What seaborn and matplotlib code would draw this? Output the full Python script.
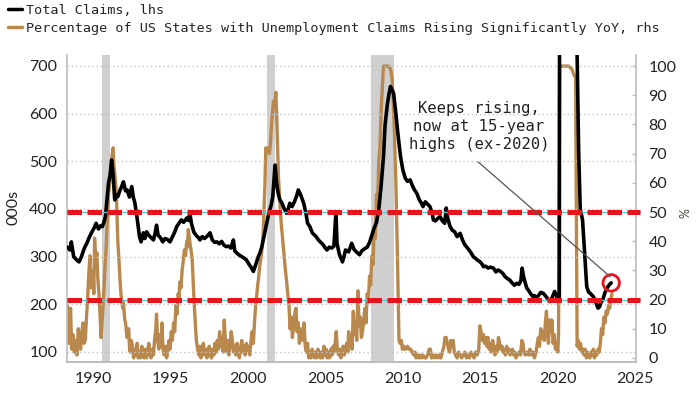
import numpy as np
import pandas as pd
import matplotlib
matplotlib.use("Agg")
import matplotlib.pyplot as plt
import matplotlib.transforms as mtransforms
from matplotlib.lines import Line2D
import seaborn as sns

# ---------------- data ----------------
# Total claims (000s), left axis: (decimal year, value)
claims_points = [
    (1988.35, 320), (1988.5, 314), (1988.6, 331), (1988.75, 300), (1988.95, 293),
    (1989.1, 289), (1989.25, 300), (1989.4, 314), (1989.5, 322), (1989.6, 328),
    (1989.75, 340), (1989.9, 350), (1990.0, 356), (1990.1, 362), (1990.2, 370),
    (1990.35, 358), (1990.5, 365), (1990.6, 363), (1990.7, 372), (1990.8, 384),
    (1990.9, 420), (1991.0, 455), (1991.1, 470), (1991.2, 503), (1991.3, 470),
    (1991.4, 419), (1991.5, 430), (1991.6, 426), (1991.75, 440), (1991.85, 447),
    (1991.96, 457), (1992.1, 438), (1992.2, 440), (1992.35, 425), (1992.5, 447),
    (1992.6, 425), (1992.7, 413), (1992.85, 380), (1993.0, 342), (1993.1, 331),
    (1993.25, 350), (1993.35, 338), (1993.46, 352), (1993.6, 345), (1993.75, 340),
    (1993.9, 335), (1994.0, 348), (1994.1, 366), (1994.2, 345), (1994.35, 340),
    (1994.5, 331), (1994.65, 338), (1994.8, 336), (1994.97, 331), (1995.1, 340),
    (1995.25, 350), (1995.4, 363), (1995.55, 370), (1995.7, 377), (1995.85, 372),
    (1996.05, 381), (1996.15, 376), (1996.25, 391), (1996.35, 370), (1996.5, 352),
    (1996.65, 345), (1996.8, 340), (1996.9, 335), (1997.05, 342), (1997.2, 338),
    (1997.4, 344), (1997.55, 350), (1997.7, 335), (1997.85, 330), (1998.0, 331),
    (1998.15, 327), (1998.3, 332), (1998.45, 324), (1998.6, 321), (1998.75, 322),
    (1998.9, 318), (1999.06, 335), (1999.15, 312), (1999.3, 307), (1999.45, 303),
    (1999.6, 300), (1999.75, 297), (1999.9, 293), (2000.05, 285), (2000.2, 278),
    (2000.35, 269), (2000.5, 283), (2000.67, 300), (2000.8, 310), (2000.9, 321),
    (2001.05, 345), (2001.2, 370), (2001.35, 392), (2001.5, 408), (2001.6, 425),
    (2001.7, 470), (2001.75, 492), (2001.85, 455), (2001.95, 433), (2002.05, 420),
    (2002.2, 412), (2002.35, 400), (2002.5, 391), (2002.6, 400), (2002.7, 412),
    (2002.85, 405), (2003.0, 415), (2003.15, 428), (2003.25, 440), (2003.4, 430),
    (2003.6, 412), (2003.75, 390), (2003.85, 370), (2004.0, 363), (2004.15, 350),
    (2004.3, 345), (2004.4, 342), (2004.55, 335), (2004.7, 330), (2004.85, 325),
    (2005.0, 318), (2005.1, 314), (2005.25, 320), (2005.4, 318), (2005.55, 322),
    (2005.68, 394), (2005.75, 328), (2005.9, 305), (2006.1, 289), (2006.2, 300),
    (2006.3, 314), (2006.5, 310), (2006.7, 328), (2006.85, 315), (2007.0, 310),
    (2007.2, 304), (2007.35, 312), (2007.5, 316), (2007.7, 320), (2007.85, 330),
    (2008.0, 345), (2008.15, 360), (2008.3, 372), (2008.45, 400), (2008.6, 450),
    (2008.75, 510), (2008.85, 575), (2009.0, 620), (2009.1, 640), (2009.2, 657),
    (2009.3, 650), (2009.4, 643), (2009.55, 600), (2009.7, 552), (2009.85, 510),
    (2010.0, 482), (2010.15, 465), (2010.3, 458), (2010.47, 461), (2010.6, 450),
    (2010.75, 440), (2010.9, 433), (2011.05, 420), (2011.2, 412), (2011.3, 405),
    (2011.45, 415), (2011.6, 410), (2011.75, 405), (2011.9, 390), (2011.97, 377),
    (2012.1, 375), (2012.25, 380), (2012.4, 384), (2012.55, 375), (2012.7, 370),
    (2012.8, 402), (2012.9, 380), (2013.05, 363), (2013.2, 355), (2013.35, 352),
    (2013.5, 342), (2013.7, 349), (2013.85, 335), (2014.0, 325), (2014.1, 321),
    (2014.25, 315), (2014.4, 308), (2014.55, 300), (2014.7, 296), (2014.8, 293),
    (2014.95, 290), (2015.1, 285), (2015.2, 279), (2015.35, 280), (2015.5, 276),
    (2015.65, 278), (2015.85, 276), (2016.0, 268), (2016.15, 272), (2016.3, 269),
    (2016.45, 265), (2016.6, 258), (2016.75, 254), (2016.9, 251), (2017.05, 245),
    (2017.2, 240), (2017.35, 244), (2017.5, 242), (2017.62, 250), (2017.7, 276),
    (2017.78, 260), (2017.9, 245), (2018.0, 234), (2018.1, 230), (2018.25, 222),
    (2018.4, 216), (2018.5, 218), (2018.6, 213), (2018.75, 218), (2018.9, 225),
    (2019.07, 223), (2019.2, 218), (2019.35, 212), (2019.5, 206), (2019.65, 215),
    (2019.8, 227), (2019.9, 220), (2020.0, 209), (2020.1, 215), (2020.16, 2500),
    (2020.3, 3000), (2020.6, 1400), (2020.9, 850), (2021.15, 800), (2021.25, 720),
    (2021.35, 520), (2021.45, 400), (2021.6, 377), (2021.75, 300), (2021.87, 237),
    (2022.0, 225), (2022.1, 223), (2022.3, 216), (2022.45, 205), (2022.6, 192),
    (2022.7, 195), (2022.8, 205), (2022.9, 209), (2023.05, 225), (2023.2, 235),
    (2023.35, 242), (2023.45, 245),
]

# % of US states with claims rising significantly YoY, right axis
pct_points = [
    (1988.35, 18), (1988.42, 5), (1988.5, 12), (1988.55, 17), (1988.62, 3), (1988.7, 8),
    (1988.8, 2), (1988.9, 6), (1988.97, 1), (1989.05, 10), (1989.12, 4), (1989.2, 3),
    (1989.28, 9), (1989.35, 12), (1989.42, 5), (1989.5, 6), (1989.58, 14), (1989.65, 20),
    (1989.72, 28), (1989.8, 35), (1989.85, 24), (1989.92, 27), (1990.0, 30), (1990.05, 22),
    (1990.1, 41), (1990.17, 33), (1990.25, 36), (1990.3, 28), (1990.38, 22), (1990.45, 15),
    (1990.52, 7), (1990.58, 12), (1990.65, 18), (1990.72, 25), (1990.77, 31), (1990.85, 38),
    (1990.9, 45), (1990.95, 50), (1991.0, 56), (1991.08, 60), (1991.15, 65), (1991.22, 69),
    (1991.3, 72), (1991.35, 66), (1991.42, 62), (1991.5, 57), (1991.55, 48), (1991.6, 40),
    (1991.68, 33), (1991.75, 26), (1991.8, 22), (1991.85, 20), (1991.92, 17), (1991.96, 19),
    (1992.05, 13), (1992.1, 12), (1992.2, 7), (1992.3, 10), (1992.35, 4),
    (1992.4, 2), (1992.47, 6), (1992.55, 4), (1992.62, 0), (1992.7, 3), (1992.77, 1),
    (1992.85, 5), (1992.92, 0), (1993.0, 2), (1993.07, 0), (1993.15, 4), (1993.22, 1),
    (1993.3, 0), (1993.37, 3), (1993.45, 0), (1993.52, 2), (1993.6, 5), (1993.67, 1),
    (1993.75, 0), (1993.82, 3), (1993.9, 1), (1993.97, 6), (1994.05, 10), (1994.1, 15),
    (1994.17, 6), (1994.25, 3), (1994.32, 8), (1994.4, 4), (1994.45, 12), (1994.52, 3),
    (1994.6, 1), (1994.67, 4), (1994.75, 0), (1994.82, 2), (1994.9, 6), (1994.97, 3),
    (1995.05, 9), (1995.12, 6), (1995.2, 12), (1995.27, 9), (1995.35, 18), (1995.42, 15),
    (1995.5, 22), (1995.55, 20), (1995.6, 26), (1995.68, 24), (1995.75, 30), (1995.82, 33),
    (1995.9, 37), (1995.97, 35), (1996.05, 40), (1996.1, 38), (1996.15, 44), (1996.22, 41),
    (1996.3, 38), (1996.35, 36), (1996.4, 34), (1996.45, 28), (1996.5, 22), (1996.55, 17),
    (1996.6, 12), (1996.67, 6), (1996.75, 3), (1996.82, 1), (1996.9, 4), (1996.97, 0),
    (1997.05, 2), (1997.12, 5), (1997.2, 1), (1997.27, 3), (1997.35, 0), (1997.42, 2),
    (1997.5, 4), (1997.57, 1), (1997.65, 0), (1997.72, 3), (1997.8, 1), (1997.87, 5),
    (1997.95, 2), (1998.02, 6), (1998.1, 3), (1998.17, 9), (1998.25, 4), (1998.32, 7),
    (1998.4, 2), (1998.47, 13), (1998.55, 5), (1998.62, 2), (1998.7, 6), (1998.77, 1),
    (1998.85, 4), (1998.92, 9), (1999.0, 6), (1999.07, 2), (1999.15, 4), (1999.22, 1),
    (1999.3, 5), (1999.37, 2), (1999.45, 0), (1999.52, 3), (1999.6, 6), (1999.67, 2),
    (1999.75, 4), (1999.82, 1), (1999.9, 5), (1999.97, 2), (2000.05, 4), (2000.12, 1),
    (2000.2, 6), (2000.27, 9), (2000.35, 5), (2000.42, 12), (2000.5, 18), (2000.56, 21),
    (2000.63, 25), (2000.7, 28), (2000.75, 31), (2000.8, 33), (2000.88, 36), (2000.95, 40),
    (2001.0, 45), (2001.05, 52), (2001.1, 60), (2001.15, 72), (2001.22, 71), (2001.3, 72),
    (2001.38, 70), (2001.45, 73), (2001.5, 78), (2001.55, 82), (2001.6, 85), (2001.65, 88),
    (2001.72, 86), (2001.8, 91), (2001.85, 84), (2001.9, 75), (2001.97, 62), (2002.03, 56),
    (2002.1, 50), (2002.15, 46), (2002.2, 43), (2002.28, 38), (2002.35, 34), (2002.42, 30),
    (2002.5, 26), (2002.57, 22), (2002.65, 18), (2002.72, 10), (2002.8, 14), (2002.87, 7),
    (2002.95, 11), (2003.02, 15), (2003.1, 17), (2003.17, 9), (2003.25, 12), (2003.32, 5),
    (2003.4, 8), (2003.47, 10), (2003.55, 6), (2003.62, 12), (2003.7, 4), (2003.77, 2),
    (2003.85, 5), (2003.92, 0), (2004.0, 2), (2004.07, 0), (2004.15, 3), (2004.22, 1),
    (2004.3, 0), (2004.37, 2), (2004.45, 0), (2004.52, 3), (2004.6, 1), (2004.67, 0),
    (2004.75, 2), (2004.82, 0), (2004.9, 4), (2004.97, 1), (2005.05, 3), (2005.12, 0),
    (2005.2, 2), (2005.27, 0), (2005.35, 3), (2005.42, 1), (2005.5, 4), (2005.57, 2),
    (2005.65, 6), (2005.7, 9), (2005.77, 3), (2005.85, 1), (2005.92, 3), (2006.0, 0),
    (2006.07, 2), (2006.15, 4), (2006.22, 1), (2006.3, 3), (2006.37, 5), (2006.45, 2),
    (2006.5, 9), (2006.57, 4), (2006.65, 7), (2006.72, 3), (2006.8, 16), (2006.87, 8),
    (2006.95, 12), (2007.02, 6), (2007.1, 23), (2007.17, 11), (2007.25, 14), (2007.32, 7),
    (2007.4, 9), (2007.47, 13), (2007.55, 17), (2007.62, 12), (2007.7, 22), (2007.77, 19),
    (2007.85, 28), (2007.92, 25), (2008.0, 35), (2008.07, 32), (2008.15, 44), (2008.22, 41),
    (2008.3, 56), (2008.37, 52), (2008.45, 68), (2008.52, 72), (2008.6, 85), (2008.67, 92),
    (2008.75, 100), (2008.9, 100), (2009.05, 100), (2009.2, 99), (2009.3, 96), (2009.38, 88),
    (2009.45, 78), (2009.55, 60), (2009.65, 35), (2009.72, 15), (2009.75, 6),
    (2009.82, 5), (2009.9, 6), (2009.97, 3), (2010.05, 4), (2010.12, 3), (2010.2, 3),
    (2010.3, 4), (2010.4, 3), (2010.5, 3), (2010.6, 2), (2010.7, 1), (2010.78, 2),
    (2010.85, 0), (2010.95, 1), (2011.05, 0), (2011.12, 1), (2011.2, 0), (2011.3, 1),
    (2011.4, 0), (2011.5, 0), (2011.6, 1), (2011.7, 3), (2011.78, 3), (2011.85, 0),
    (2011.95, 1), (2012.05, 0), (2012.15, 1), (2012.25, 0), (2012.35, 1), (2012.45, 0),
    (2012.55, 2), (2012.65, 4), (2012.72, 7), (2012.8, 7), (2012.87, 5), (2012.95, 3),
    (2013.02, 2), (2013.1, 6), (2013.17, 4), (2013.25, 6), (2013.32, 2), (2013.4, 1),
    (2013.5, 0), (2013.6, 2), (2013.7, 1), (2013.8, 0), (2013.9, 1), (2014.0, 2),
    (2014.1, 0), (2014.2, 1), (2014.3, 0), (2014.4, 2), (2014.5, 1), (2014.6, 0),
    (2014.7, 2), (2014.8, 1), (2014.9, 3), (2014.97, 11), (2015.05, 9), (2015.12, 6),
    (2015.2, 8), (2015.27, 5), (2015.35, 7), (2015.42, 4), (2015.5, 7), (2015.57, 3),
    (2015.65, 5), (2015.72, 2), (2015.8, 6), (2015.87, 3), (2015.95, 1), (2016.02, 4),
    (2016.1, 2), (2016.17, 7), (2016.25, 5), (2016.32, 3), (2016.4, 4), (2016.47, 2),
    (2016.55, 3), (2016.62, 1), (2016.7, 4), (2016.77, 2), (2016.85, 3), (2016.92, 1),
    (2017.0, 2), (2017.07, 3), (2017.15, 1), (2017.22, 2), (2017.3, 0), (2017.4, 1),
    (2017.5, 2), (2017.6, 1), (2017.68, 6), (2017.75, 5), (2017.82, 2), (2017.9, 1),
    (2018.0, 2), (2018.1, 1), (2018.2, 3), (2018.3, 1), (2018.4, 2), (2018.5, 0),
    (2018.6, 2), (2018.68, 5), (2018.75, 7), (2018.82, 4), (2018.9, 10), (2018.97, 7),
    (2019.05, 9), (2019.12, 6), (2019.2, 12), (2019.27, 16), (2019.33, 8), (2019.4, 5),
    (2019.47, 13), (2019.55, 9), (2019.62, 13), (2019.7, 5), (2019.77, 8), (2019.85, 3),
    (2019.92, 5), (2020.0, 2), (2020.05, 8), (2020.12, 100), (2020.4, 100), (2020.7, 100),
    (2020.9, 99), (2021.05, 97), (2021.15, 96), (2021.25, 4), (2021.32, 6), (2021.4, 3),
    (2021.47, 5), (2021.55, 2), (2021.62, 3), (2021.7, 1), (2021.77, 3), (2021.85, 0),
    (2021.92, 2), (2022.0, 1), (2022.07, 0), (2022.15, 2), (2022.22, 1), (2022.3, 3),
    (2022.37, 0), (2022.45, 2), (2022.52, 1), (2022.6, 3), (2022.67, 2), (2022.75, 5),
    (2022.82, 10), (2022.9, 8), (2022.97, 14), (2023.05, 12), (2023.12, 16), (2023.2, 15),
    (2023.28, 18), (2023.35, 17), (2023.42, 20), (2023.5, 22),
]

recession_start = [1990.58, 2001.22, 2007.95]
recession_end = [1991.12, 2001.75, 2009.45]

threshold_levels = [50, 20]

x_ticks = [1990, 1995, 2000, 2005, 2010, 2015, 2020, 2025]
left_ticks = [100, 200, 300, 400, 500, 600, 700]
right_ticks = [0, 10, 20, 30, 40, 50, 60, 70, 80, 90, 100]

legend_labels = ["Total Claims, lhs",
                 "Percentage of US States with Unemployment Claims Rising Significantly YoY, rhs"]
annotation_text = "Keeps rising,\nnow at 15-year\nhighs (ex-2020)"

# ---------------- style ----------------
sns.set_style("white")
plt.rcParams['font.family'] = ['Lato', 'DejaVu Sans']

BLACK = "#000000"
TAN = "#b9884c"
RED = "#e8141c"
CYAN = "#5cc8d6"
GRID = "#c4c4c4"
SPINE = "#bdbdbd"
RECESS = "#cfcfcf"
TXT = "#222222"
MONO = ['DejaVu Sans Mono']

claims_df = pd.DataFrame(claims_points, columns=["year", "claims"])
pct_df = pd.DataFrame(pct_points, columns=["year", "pct"])

fig = plt.figure(figsize=(7.0, 3.94), dpi=100)
ax = fig.add_axes([67/700, 1-362/394, (636-67)/700, (362-55)/394])
ax2 = ax.twinx()
ax.set_zorder(ax2.get_zorder() + 1)
ax.patch.set_visible(False)

# recession shading (on lower axis)
for s, e in zip(recession_start, recession_end):
    ax2.axvspan(s, e, color=RECESS, lw=0, zorder=0)

sns.lineplot(data=pct_df, x="year", y="pct", ax=ax2, color=TAN, linewidth=2.4,
             estimator=None, sort=False, zorder=2)
sns.lineplot(data=claims_df, x="year", y="claims", ax=ax, color=BLACK, linewidth=2.6,
             estimator=None, sort=False, zorder=3)

# threshold lines (right-axis values)
blend = mtransforms.blended_transform_factory(ax.transAxes, ax2.transData)
for lvl in threshold_levels:
    ax.add_line(Line2D([0, 1.007], [lvl, lvl], transform=blend, color=CYAN, lw=1.0,
                       zorder=4, clip_on=False))
    ax.add_line(Line2D([0, 1.007], [lvl, lvl], transform=blend, color=RED, lw=3.6,
                       dashes=(2.9, 1.1), dash_capstyle='butt', zorder=5, clip_on=False))

# red circle round the latest value
sns.scatterplot(x=[claims_df["year"].iloc[-1]], y=[claims_df["claims"].iloc[-1]], ax=ax,
                s=140, marker='o', facecolor='none', edgecolor=RED, linewidth=2.0, zorder=6)

# annotation
ax.annotate("", xy=(2023.38, 258), xytext=(2014.85, 499),
            arrowprops=dict(arrowstyle='-', color='#555555', lw=0.9,
                            shrinkA=0, shrinkB=0), zorder=7)
ax.text(2014.92, 572, annotation_text, ha='center', va='center', fontsize=11.2,
        family=MONO, color=TXT, linespacing=1.25, zorder=7)

# axes limits and ticks
ax.set_xlim(1988.32, 2025.05)
ax.set_ylim(79, 723)
ax2.set_ylim(-1.4, 103.8)
ax.set_xticks(x_ticks)
ax.set_xticklabels([str(t) for t in x_ticks])
ax.set_yticks(left_ticks)
ax.set_yticklabels([str(t) for t in left_ticks])
ax2.set_yticks(right_ticks)
ax2.set_yticklabels([str(t) for t in right_ticks])
ax.set_xlabel("")
ax.set_ylabel("")
ax2.set_ylabel("")

ax.grid(axis='y', linestyle=(0, (1, 2)), color=GRID, lw=1.0)
ax.grid(axis='x', visible=False)
ax2.grid(False)

ax.tick_params(axis='x', direction='out', length=4, width=1, color=SPINE,
               labelsize=11.5, labelcolor=TXT, pad=3)
ax.tick_params(axis='y', length=0, labelsize=11.5, labelcolor=TXT, pad=7)
ax2.tick_params(axis='y', direction='in', length=3, width=1, color=SPINE,
                labelsize=11.5, labelcolor=TXT, pad=9)

for a in (ax, ax2):
    a.spines['top'].set_visible(False)
    for side in ('left', 'right', 'bottom'):
        a.spines[side].set_color(SPINE)
        a.spines[side].set_linewidth(1.2)
ax.spines['right'].set_visible(False)
ax2.spines['left'].set_visible(False)

fig.text(14/700, 1-207/394, "000s", rotation=90, ha='center', va='center',
         fontsize=11.5, color=TXT)
fig.text(686/700, 1-213/394, "%", rotation=90, ha='center', va='center',
         fontsize=9, color='#3b4a3b')

handles = [Line2D([], [], color=BLACK, lw=2.5), Line2D([], [], color=TAN, lw=2.5)]
fig.legend(handles, legend_labels, loc='upper left', bbox_to_anchor=(8/700, 1-4/394),
           frameon=False, borderpad=0, borderaxespad=0, handlelength=1.05,
           handletextpad=0.3, labelspacing=0.35,
           prop={'family': 'DejaVu Sans Mono', 'size': 9.7})

fig.savefig("out.png", dpi=100, facecolor='white')
